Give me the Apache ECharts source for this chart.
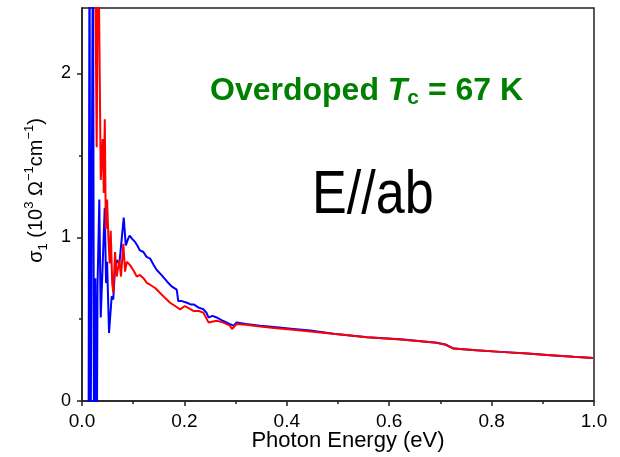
<!DOCTYPE html>
<html>
<head>
<meta charset="utf-8">
<script src="https://cdn.jsdelivr.net/npm/echarts@6/dist/echarts.min.js"></script>
<style>html,body{margin:0;padding:0;background:#fff}#c{width:620px;height:457px}</style>
</head>
<body>
<div id="c"></div>
<script>
// ---- data (photon energy in eV, sigma_1 in 10^3 Ohm^-1 cm^-1) ----
const xTicks = [0, 0.2, 0.4, 0.6, 0.8, 1.0];
const yTicks = [0, 1, 2];
const yMinorTicks = [0.5, 1.5];

const blueEnergy = [0.0127, 0.0147, 0.0166, 0.0215, 0.0235, 0.026, 0.0287, 0.0303, 0.0338, 0.0366, 0.040, 0.0444, 0.047, 0.049, 0.0528, 0.058, 0.061, 0.064, 0.068, 0.073, 0.0815, 0.0855, 0.090, 0.093, 0.098, 0.104, 0.108, 0.113, 0.120, 0.126, 0.133, 0.140, 0.146, 0.155, 0.166, 0.175, 0.185, 0.188, 0.195, 0.205, 0.212, 0.218, 0.228, 0.237, 0.243, 0.247, 0.255, 0.263, 0.275, 0.289, 0.296, 0.302, 0.320, 0.348, 0.380, 0.413, 0.446, 0.491, 0.557, 0.622, 0.693, 0.710, 0.726, 0.770, 0.817, 0.870, 0.915, 0.960, 0.998];
const blueSigma  = [-0.5, 3.0, -0.5, 3.0, -0.5, 0.75, -0.5, 0.70, 1.23, 0.51, 0.80, 1.18, 0.72, 0.85, 0.415, 0.64, 0.62, 0.78, 0.86, 0.84, 1.12, 0.95, 0.99, 1.01, 0.99, 0.97, 0.95, 0.92, 0.91, 0.88, 0.87, 0.83, 0.80, 0.77, 0.73, 0.70, 0.68, 0.61, 0.61, 0.60, 0.59, 0.59, 0.57, 0.56, 0.54, 0.51, 0.52, 0.51, 0.49, 0.47, 0.46, 0.48, 0.47, 0.46, 0.45, 0.44, 0.43, 0.41, 0.39, 0.377, 0.356, 0.345, 0.32, 0.31, 0.30, 0.29, 0.28, 0.27, 0.263];

const redEnergy = [0.025, 0.0287, 0.0315, 0.0366, 0.0405, 0.0425, 0.0445, 0.0465, 0.0490, 0.0515, 0.0540, 0.0561, 0.0590, 0.0612, 0.0645, 0.0678, 0.0729, 0.0762, 0.0807, 0.0841, 0.0874, 0.0938, 0.100, 0.107, 0.113, 0.120, 0.127, 0.133, 0.143, 0.1525, 0.162, 0.172, 0.182, 0.1916, 0.201, 0.2176, 0.228, 0.237, 0.247, 0.263, 0.275, 0.289, 0.293, 0.302, 0.320, 0.348, 0.380, 0.413, 0.446, 0.491, 0.557, 0.622, 0.693, 0.710, 0.726, 0.770, 0.817, 0.870, 0.915, 0.960, 0.998];
const redSigma  = [3.0, 1.55, 3.0, 1.35, 1.60, 1.27, 1.72, 1.05, 1.23, 1.00, 0.84, 1.04, 0.72, 0.66, 0.91, 0.76, 0.86, 0.76, 0.96, 0.79, 0.85, 0.83, 0.80, 0.76, 0.77, 0.75, 0.72, 0.71, 0.69, 0.66, 0.63, 0.60, 0.58, 0.56, 0.58, 0.55, 0.55, 0.54, 0.48, 0.49, 0.48, 0.46, 0.44, 0.47, 0.465, 0.455, 0.445, 0.435, 0.425, 0.41, 0.39, 0.375, 0.355, 0.343, 0.32, 0.31, 0.30, 0.29, 0.28, 0.27, 0.262];

const zip = (xs, ys) => xs.map((x, i) => [x, ys[i]]);

const chart = echarts.init(document.getElementById('c'), null, {renderer: 'canvas'});
const FONT = 'Liberation Sans, Arial, sans-serif';
const axisCol = '#222';

const option = {
  backgroundColor: '#fff',
  animation: false,
  grid: {left: 82, right: 26, top: 8, bottom: 56, outerBoundsMode: 'none', containLabel: false,
         show: true, borderColor: axisCol, borderWidth: 1.5, backgroundColor: 'transparent'},
  xAxis: {
    type: 'value', min: 0, max: 1, interval: 0.2,
    axisLine: {show: true, lineStyle: {color: axisCol, width: 1.5}},
    axisTick: {show: true, length: 5, lineStyle: {color: axisCol, width: 1.5}},
    minorTick: {show: true, splitNumber: 2, length: 3, lineStyle: {color: axisCol, width: 1.5}},
    splitLine: {show: false}, minorSplitLine: {show: false},
    axisLabel: {fontFamily: FONT, fontSize: 19, color: '#000', margin: 11, formatter: v => v.toFixed(1)},
    name: 'Photon Energy (eV)', nameLocation: 'middle', nameGap: 29, nameMoveOverlap: false,
    nameTextStyle: {fontFamily: FONT, fontSize: 22, color: '#000', padding: [0, 0, 0, 20]}
  },
  yAxis: [{
    type: 'value', min: 0, max: 2.4, interval: 1,
    axisLine: {show: true, lineStyle: {color: axisCol, width: 1.5}},
    axisTick: {show: true, length: 5, customValues: yTicks, lineStyle: {color: axisCol, width: 1.5}},
    splitLine: {show: false},
    axisLabel: {fontFamily: FONT, fontSize: 18, color: '#000', margin: 11, customValues: yTicks},
    name: '{a|σ}{sub|1}{a| (10}{sup|3}{a| Ω}{sup|−1}{a|cm}{sup|−1}{a|)}',
    nameLocation: 'middle', nameGap: 32,
    nameTextStyle: {
      fontFamily: FONT, fontSize: 20, color: '#000', padding: [0, 0, 0, 28],
      rich: {
        a: {fontFamily: FONT, fontSize: 20, color: '#000', lineHeight: 27, verticalAlign: 'middle'},
        sub: {fontFamily: FONT, fontSize: 13, color: '#000', lineHeight: 12, verticalAlign: 'bottom'},
        sup: {fontFamily: FONT, fontSize: 13, color: '#000', lineHeight: 12, verticalAlign: 'top'}
      }
    }
  }, {
    type: 'value', min: 0, max: 2.4, position: 'left',
    axisLine: {show: false},
    axisTick: {show: true, length: 3, customValues: yMinorTicks, lineStyle: {color: axisCol, width: 1.5}},
    axisLabel: {show: false}, splitLine: {show: false}
  }],
  series: [
    {type: 'line', data: zip(blueEnergy, blueSigma), showSymbol: false, symbol: 'none', clip: true,
     lineStyle: {color: '#0000ff', width: 2}, itemStyle: {color: '#0000ff'}, z: 2},
    {type: 'line', data: zip(redEnergy, redSigma), showSymbol: false, symbol: 'none', clip: true,
     lineStyle: {color: '#ff0000', width: 2}, itemStyle: {color: '#ff0000'}, z: 3}
  ],
  graphic: [
    {type: 'text', left: 210, top: 75, z: 10,
     style: {
       text: '{a|Overdoped }{t|T}{s|c}{a| = 67 K}',
       rich: {
         a: {fontFamily: FONT, fontWeight: 'bold', fontSize: 32, fill: '#008000', lineHeight: 36, verticalAlign: 'middle'},
         t: {fontFamily: FONT, fontWeight: 'bold', fontStyle: 'italic', fontSize: 32, fill: '#008000', lineHeight: 36, verticalAlign: 'middle'},
         s: {fontFamily: FONT, fontWeight: 'bold', fontSize: 21, fill: '#008000', lineHeight: 14, verticalAlign: 'bottom'}
       }
     }},
    {type: 'text', left: 312, top: 165, z: 10, scaleX: 0.84,
     style: {text: 'E//ab', fontFamily: FONT, fontSize: 62, fill: '#000'}}
  ]
};
chart.setOption(option);
</script>
</body>
</html>
